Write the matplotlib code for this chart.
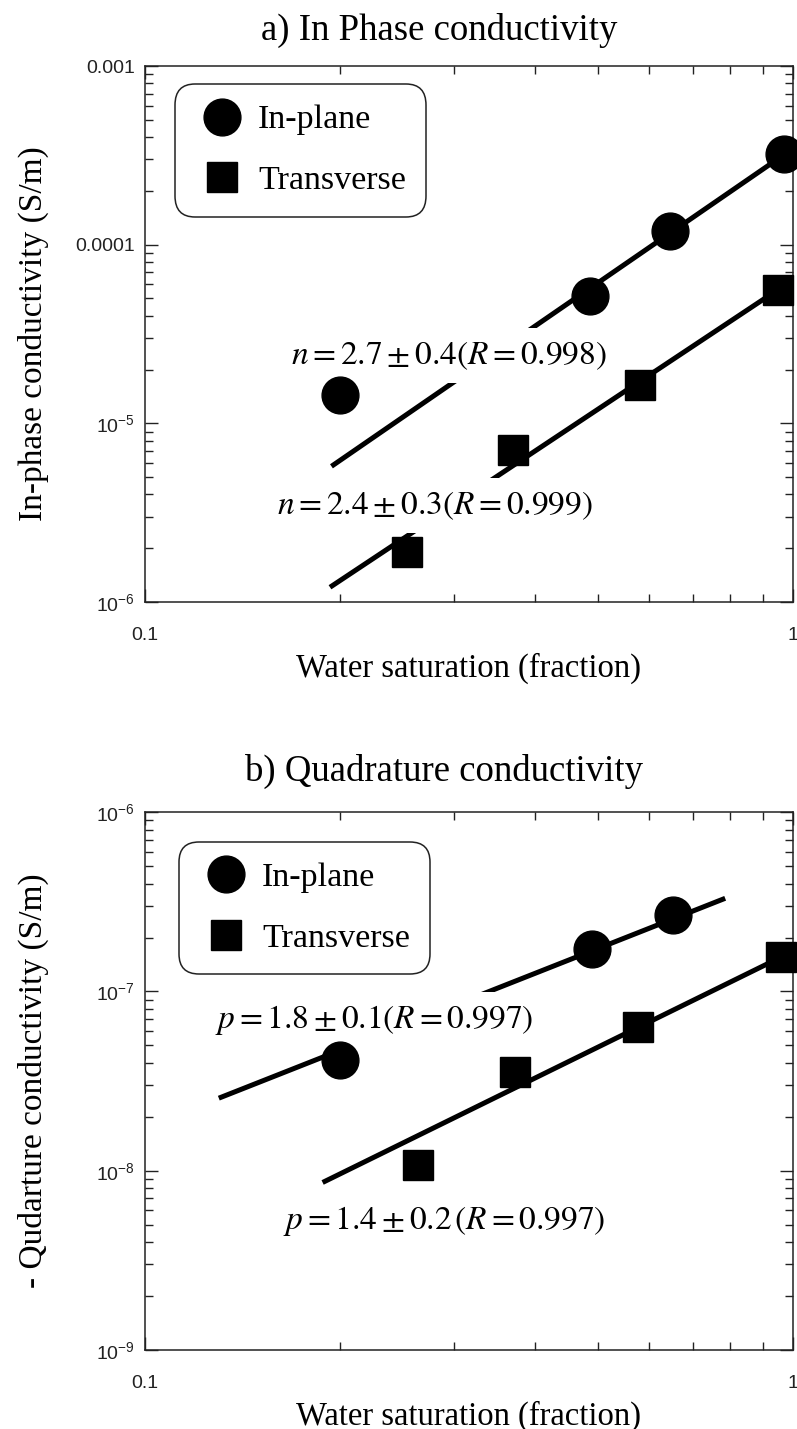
import numpy as np
import matplotlib
matplotlib.use("Agg")
import matplotlib.pyplot as plt
from matplotlib.lines import Line2D
from matplotlib.ticker import NullFormatter

# water saturation (fraction) and conductivities (S/m)
sw_a_in = [0.20, 0.486, 0.645, 0.970]
sig_a_in = [1.44e-5, 5.16e-5, 1.19e-4, 3.2e-4]
sw_a_tr = [0.254, 0.370, 0.581, 0.948]
sig_a_tr = [1.9e-6, 7.13e-6, 1.63e-5, 5.6e-5]

sw_b_in = [0.20, 0.490, 0.653]
sig_b_in = [4.15e-8, 1.72e-7, 2.67e-7]
sw_b_tr = [0.264, 0.372, 0.576, 0.957]
sig_b_tr = [1.07e-8, 3.54e-8, 6.36e-8, 1.55e-7]

# power-law fit segments (end points)
fit_a_in_x = [0.194, 0.970]
fit_a_in_y = [5.75e-6, 3.2e-4]
fit_a_tr_x = [0.193, 0.948]
fit_a_tr_y = [1.21e-6, 5.6e-5]
fit_b_in_x = [0.130, 0.786]
fit_b_in_y = [2.54e-8, 3.31e-7]
fit_b_tr_x = [0.188, 0.957]
fit_b_tr_y = [8.6e-9, 1.55e-7]

ticks_a = [1e-6, 1e-5, 1e-4, 1e-3]
ticklabels_a = [r'$\mathregular{10^{-6}}$', r'$\mathregular{10^{-5}}$', '0.0001', '0.001']
ticks_b = [1e-9, 1e-8, 1e-7, 1e-6]
ticklabels_b = [r'$\mathregular{10^{-9}}$', r'$\mathregular{10^{-8}}$',
                r'$\mathregular{10^{-7}}$', r'$\mathregular{10^{-6}}$']
xticks = [0.1, 1]
xticklabels = ['0.1', '1']

SERIF = 'Liberation Serif'
SANS = 'Liberation Sans'
plt.rcParams['mathtext.fontset'] = 'stix'

fig = plt.figure(figsize=(7.97, 14.29), dpi=100)
ax_a = fig.add_axes([0.1819, 0.5787, 0.8130, 0.3751])
ax_b = fig.add_axes([0.1819, 0.0553, 0.8130, 0.3763])


def style_axes(ax, ylim, yticks, yticklabels):
    ax.set_xscale('log')
    ax.set_yscale('log')
    ax.set_xlim(0.1, 1)
    ax.set_ylim(*ylim)
    ax.set_xticks(xticks)
    ax.set_xticklabels(xticklabels)
    ax.set_yticks(yticks)
    ax.set_yticklabels(yticklabels)
    ax.xaxis.set_minor_formatter(NullFormatter())
    ax.yaxis.set_minor_formatter(NullFormatter())
    ax.tick_params(which='both', direction='in', top=True, right=True, colors='#222222')
    ax.tick_params(which='major', length=9.5, width=1.0, labelsize=14)
    ax.tick_params(which='minor', length=5.8, width=1.0)
    ax.tick_params(axis='x', pad=18)
    ax.tick_params(axis='y', pad=7)
    for lab in ax.get_xticklabels() + ax.get_yticklabels():
        lab.set_fontfamily(SANS)
    for sp in ax.spines.values():
        sp.set_linewidth(1.1)
        sp.set_color('#222222')
    ax.set_xlabel('Water saturation (fraction)', fontsize=23.5, family=SERIF, labelpad=6)


def draw_panel(ax, x_in, y_in, x_tr, y_tr, fits):
    for fx, fy in fits:
        ax.plot(fx, fy, color='black', lw=3.6, solid_capstyle='butt', zorder=2)
    ax.plot(x_in, y_in, 'o', color='black', ms=26.5, zorder=4, clip_on=False)
    ax.plot(x_tr, y_tr, 's', color='black', ms=21.5, zorder=4, clip_on=False)


def add_legend(ax, anchor):
    handles = [Line2D([], [], marker='o', ls='none', color='black', ms=26.5),
               Line2D([], [], marker='s', ls='none', color='black', ms=21.5)]
    leg = ax.legend(handles, ['In-plane', 'Transverse'], loc='upper left',
                    bbox_to_anchor=anchor, prop={'family': SERIF, 'size': 24.5},
                    borderpad=0.6, handlelength=1.6, handletextpad=0.25,
                    labelspacing=0.88, borderaxespad=0, framealpha=1,
                    edgecolor='#222222', fancybox=True)
    leg.get_frame().set_boxstyle('round', pad=0, rounding_size=0.6)
    leg.get_frame().set_linewidth(1.1)
    leg.set_zorder(5)


def add_fit_label(ax, x, y, s):
    ax.text(x, y, s, transform=ax.transAxes, ha='center', va='center', fontsize=24,
            zorder=3, bbox=dict(facecolor='white', edgecolor='none', pad=8))


# a) in-phase conductivity
style_axes(ax_a, (1e-6, 1e-3), ticks_a, ticklabels_a)
draw_panel(ax_a, sw_a_in, sig_a_in, sw_a_tr, sig_a_tr,
           [(fit_a_in_x, fit_a_in_y), (fit_a_tr_x, fit_a_tr_y)])
add_legend(ax_a, (0.046, 0.966))
add_fit_label(ax_a, 0.469, 0.460, r'$n=2.7\pm0.4(R=0.998)$')
add_fit_label(ax_a, 0.447, 0.180, r'$n=2.4\pm0.3(R=0.999)$')
ax_a.set_ylabel('In-phase conductivity (S/m)', fontsize=24, family=SERIF)
ax_a.yaxis.set_label_coords(-0.148, 0.5)
ax_a.text(0.454, 1.066, 'a) In Phase conductivity', transform=ax_a.transAxes,
          ha='center', va='center', fontsize=26.5, family=SERIF)

# b) quadrature conductivity
style_axes(ax_b, (1e-9, 1e-6), ticks_b, ticklabels_b)
draw_panel(ax_b, sw_b_in, sig_b_in, sw_b_tr, sig_b_tr,
           [(fit_b_in_x, fit_b_in_y), (fit_b_tr_x, fit_b_tr_y)])
add_legend(ax_b, (0.052, 0.945))
add_fit_label(ax_b, 0.354, 0.614, r'$p=1.8\pm0.1(R=0.997)$')
add_fit_label(ax_b, 0.462, 0.239, r'$p=1.4\pm0.2\,(R=0.997)$')
ax_b.set_ylabel('- Qudarture conductivity (S/m)', fontsize=24, family=SERIF)
ax_b.yaxis.set_label_coords(-0.148, 0.5)
ax_b.text(0.462, 1.076, 'b) Quadrature conductivity', transform=ax_b.transAxes,
          ha='center', va='center', fontsize=26.5, family=SERIF)

fig.savefig('out.png', dpi=100)
